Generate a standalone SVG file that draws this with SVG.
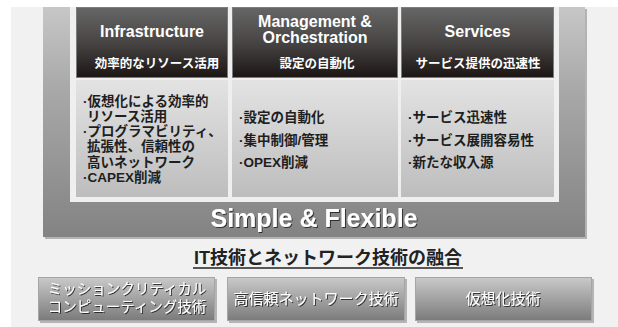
<svg xmlns="http://www.w3.org/2000/svg" width="618" height="327" viewBox="0 0 618 327">
<defs>
  <linearGradient id="gPanel" x1="0" y1="0" x2="0" y2="1">
    <stop offset="0" stop-color="#c7c7c7"/>
    <stop offset="0.35" stop-color="#a9a9a9"/>
    <stop offset="1" stop-color="#838383"/>
  </linearGradient>
  <linearGradient id="gHead" x1="0" y1="0" x2="0" y2="1">
    <stop offset="0" stop-color="#666666"/>
    <stop offset="0.5" stop-color="#474544"/>
    <stop offset="1" stop-color="#1c1513"/>
  </linearGradient>
  <linearGradient id="gCard" x1="0" y1="0" x2="0" y2="1">
    <stop offset="0" stop-color="#e3e3e3"/>
    <stop offset="1" stop-color="#bdbdbd"/>
  </linearGradient>
  <linearGradient id="gBox" x1="0" y1="0" x2="0" y2="1">
    <stop offset="0" stop-color="#c9c9c9"/>
    <stop offset="1" stop-color="#7b7b7b"/>
  </linearGradient>
  <filter id="tshadow" x="-10%" y="-30%" width="120%" height="160%">
    <feDropShadow dx="1" dy="1" stdDeviation="0.6" flood-color="#222222" flood-opacity="0.85"/>
  </filter>
</defs>
<style>
  .head { fill: url(#gHead); stroke: #7c7c7c; stroke-width: 1; }
  .card { fill: url(#gCard); }
  .en { font-family: "Liberation Sans", "Noto Sans CJK JP", sans-serif; font-weight: bold; fill: #ffffff; font-size: 16px; text-anchor: middle; }
  .sub { font-family: "Noto Sans CJK JP", sans-serif; font-weight: bold; fill: #ffffff; font-size: 12.5px; text-anchor: middle; }
  .body { font-family: "Liberation Sans", "Noto Sans CJK JP", sans-serif; font-weight: bold; fill: #1e1e1e; font-size: 13.5px; }
  .boxshadow { fill: #b4b4b4; }
  .box { fill: url(#gBox); stroke: #a5a5a5; stroke-width: 1; }
  .boxt { font-family: "Liberation Sans", "Noto Sans CJK JP", sans-serif; fill: #ffffff; font-size: 15px; text-anchor: middle; filter: url(#tshadow); }
  .boxt2 { font-family: "Liberation Sans", "Noto Sans CJK JP", sans-serif; fill: #ffffff; font-size: 14.5px; text-anchor: middle; filter: url(#tshadow); }
</style>

<g id="background">
  <rect x="0" y="0" width="618" height="327" fill="#ffffff"/>
  <rect x="11" y="7" width="607" height="320" fill="#f1f1f1"/>
</g>

<g id="platform">
  <rect x="45" y="9" width="542" height="230" fill="#b3b3b3"/>
  <rect x="43" y="7" width="542" height="230" fill="url(#gPanel)"/>
  <rect x="70" y="7" width="489" height="195" fill="#efefef"/>
  <text x="314" y="227" font-family="Liberation Sans, sans-serif" font-weight="bold" font-size="25" fill="#ffffff" text-anchor="middle" filter="url(#tshadow)">Simple &amp; Flexible</text>
</g>

<g id="col-infrastructure">
  <rect class="head" x="76.5" y="7.5" width="151" height="70"/>
  <text class="en" x="152" y="37">Infrastructure</text>
  <text class="sub" x="157" y="67.5">効率的なリソース活用</text>
  <rect class="card" x="76" y="80" width="152" height="117"/>
  <text class="body" x="83" y="106">·仮想化による効率的</text>
  <text class="body" x="87" y="121">リソース活用</text>
  <text class="body" x="83" y="136">·プログラマビリティ、</text>
  <text class="body" x="87" y="151">拡張性、信頼性の</text>
  <text class="body" x="87" y="166.5">高いネットワーク</text>
  <text class="body" x="83" y="181.5">·CAPEX削減</text>
</g>

<g id="col-management">
  <rect class="head" x="232.5" y="7.5" width="165" height="70"/>
  <text class="en" x="315" y="26.5">Management &amp;</text>
  <text class="en" x="315" y="43">Orchestration</text>
  <text class="sub" x="317" y="67.5">設定の自動化</text>
  <rect class="card" x="232" y="80" width="166" height="117"/>
  <text class="body" x="239" y="122">·設定の自動化</text>
  <text class="body" x="239" y="144.5">·集中制御/管理</text>
  <text class="body" x="239" y="167">·OPEX削減</text>
</g>

<g id="col-services">
  <rect class="head" x="401.5" y="7.5" width="152" height="70"/>
  <text class="en" x="477.5" y="37">Services</text>
  <text class="sub" x="478" y="67.5">サービス提供の迅速性</text>
  <rect class="card" x="401" y="80" width="153" height="117"/>
  <text class="body" x="408" y="122">·サービス迅速性</text>
  <text class="body" x="408" y="144.5">·サービス展開容易性</text>
  <text class="body" x="408" y="167">·新たな収入源</text>
</g>

<g id="fusion-label">
  <text x="328" y="264" font-family="Liberation Sans, Noto Sans CJK JP, sans-serif" font-weight="bold" font-size="18" fill="#222222" text-anchor="middle">IT技術とネットワーク技術の融合</text>
  <line x1="193" y1="268" x2="463" y2="268" stroke="#222222" stroke-width="1.4"/>
</g>

<g id="box-mission-critical">
  <rect class="boxshadow" x="40" y="279" width="177" height="44"/>
  <rect class="box" x="38.5" y="277.5" width="176" height="43"/>
  <text class="boxt2" x="127" y="294">ミッションクリティカル</text>
  <text class="boxt2" x="127" y="312">コンピューティング技術</text>
</g>

<g id="box-network">
  <rect class="boxshadow" x="229" y="279" width="178" height="44"/>
  <rect class="box" x="227.5" y="277.5" width="177" height="43"/>
  <text class="boxt" x="316" y="304">高信頼ネットワーク技術</text>
</g>

<g id="box-virtualization">
  <rect class="boxshadow" x="417" y="279" width="177" height="44"/>
  <rect class="box" x="415.5" y="277.5" width="176" height="43"/>
  <text class="boxt" x="503" y="304">仮想化技術</text>
</g>

<g id="connectors"/>
</svg>
